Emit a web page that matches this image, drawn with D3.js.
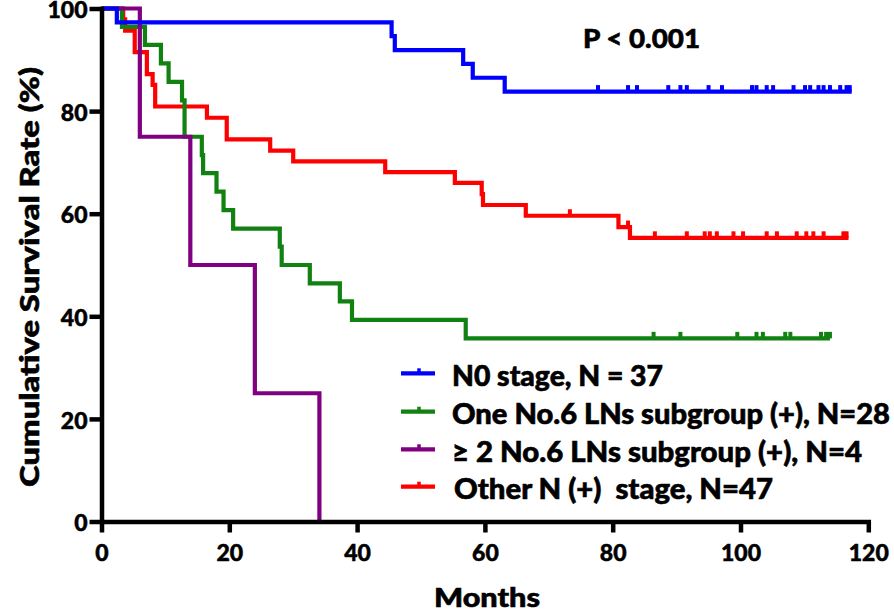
<!DOCTYPE html>
<html><head><meta charset="utf-8">
<script src="https://cdn.jsdelivr.net/npm/d3@7"></script>
<style>
body{margin:0;background:#fff}
svg{display:block}
text{font-family:Lato,"Open Sans",sans-serif;font-weight:900;fill:#000;stroke:#000;stroke-width:0.6px}
</style>
</head><body>
<svg id="chart" width="894" height="612"></svg>
<script>
// ---- data ----
const xTicks = [0, 20, 40, 60, 80, 100, 120];
const yTicks = [0, 20, 40, 60, 80, 100];
const legendLabels = ["N0 stage, N = 37", "One No.6 LNs subgroup (+), N=28", "\u2265 2 No.6 LNs subgroup (+), N=4", "Other N (+)  stage, N=47"];
const seriesColors = ["#0000ff", "#118211", "#800080", "#ff0000"];

// N0 stage
const n0Times = [0, 2.4, 45.4, 45.9, 56.6, 58.1, 63.1];
const n0Surv  = [100, 97.3, 94.6, 91.9, 89.2, 86.5, 83.8];
const n0End = 117.4;
const n0Censor = [77.7, 82.4, 83.8, 88.7, 90.6, 91.6, 95.0, 97.1, 101.8, 102.5, 104.1, 105.1, 108.3, 110.1, 110.9, 112.2, 113.0, 114.0, 115.6, 116.6, 117.1];

// One No.6 LNs subgroup (+)
const oneTimes = [0, 3.2, 6.8, 9.3, 10.5, 12.6, 13.0, 15.7, 15.9, 18.0, 19.1, 20.6, 27.9, 28.2, 32.6, 37.3, 39.2, 57.0];
const oneSurv  = [100, 96.4, 92.9, 89.3, 85.7, 82.1, 75.0, 71.4, 67.9, 64.3, 60.7, 57.1, 53.6, 50.0, 46.4, 42.9, 39.3, 35.7];
const oneEnd = 114.0;
const oneCensor = [86.4, 90.6, 99.5, 102.5, 103.5, 107.0, 107.8, 112.6, 113.4, 114.0];

// >= 2 No.6 LNs subgroup (+)
const twoTimes = [0, 6.0, 13.9, 24.0, 34.1];
const twoSurv  = [100, 75, 50, 25, 0];
const twoEnd = 34.1;
const twoCensor = [];

// Other N (+) stage
const othTimes = [0, 3.4, 3.7, 5.2, 7.1, 8.0, 8.4, 16.5, 19.6, 26.4, 30.0, 44.4, 55.3, 59.5, 59.7, 66.4, 80.9, 82.7];
const othSurv  = [100, 97.9, 95.7, 91.5, 87.2, 85.1, 80.9, 78.7, 74.5, 72.3, 70.2, 68.1, 66.0, 63.8, 61.7, 59.6, 57.4, 55.3];
const othEnd = 116.9;
const othCensor = [73.3, 82.4, 86.6, 91.6, 94.4, 95.2, 96.3, 98.9, 100.4, 104.1, 105.7, 108.8, 110.3, 111.4, 113.0, 116.1, 116.6];

// ---- layout ----
const svg = d3.select("#chart");
const x = d3.scaleLinear().domain([0, 120]).range([101.5, 868.3]);
const y = d3.scaleLinear().domain([0, 100]).range([521.5, 8.5]);

function build(times, surv, end) {
  const pts = times.map((t, i) => [t, surv[i]]);
  if (end > times[times.length - 1]) pts.push([end, surv[surv.length - 1]]);
  return pts;
}
function survAt(times, surv, t) {
  let v = surv[0];
  for (let i = 0; i < times.length; i++) if (times[i] <= t) v = surv[i];
  return v;
}

const series = [
  {times: n0Times, surv: n0Surv, end: n0End, censor: n0Censor, color: seriesColors[0]},
  {times: oneTimes, surv: oneSurv, end: oneEnd, censor: oneCensor, color: seriesColors[1]},
  {times: twoTimes, surv: twoSurv, end: twoEnd, censor: twoCensor, color: seriesColors[2]},
  {times: othTimes, surv: othSurv, end: othEnd, censor: othCensor, color: seriesColors[3]}
];
const drawOrder = [3, 1, 2, 0];

const line = d3.line().x(d => x(d[0])).y(d => y(d[1])).curve(d3.curveStepAfter);

const plot = svg.append("g");
drawOrder.forEach(i => {
  const s = series[i];
  plot.append("path")
    .attr("d", line(build(s.times, s.surv, s.end)))
    .attr("fill", "none")
    .attr("stroke", s.color)
    .attr("stroke-width", 4.2)
    .attr("stroke-linecap", "butt");
  plot.selectAll(null).data(s.censor).enter().append("line")
    .attr("x1", d => x(d)).attr("x2", d => x(d))
    .attr("y1", d => y(survAt(s.times, s.surv, d)))
    .attr("y2", d => y(survAt(s.times, s.surv, d)) - 6.5)
    .attr("stroke", s.color)
    .attr("stroke-width", 4);
});

// ---- axes ----
const xAxis = d3.axisBottom(x).tickValues(xTicks).tickSize(11).tickSizeOuter(0).tickPadding(12);
const yAxis = d3.axisLeft(y).tickValues(yTicks).tickSize(12).tickSizeOuter(0).tickPadding(2);

const gx = svg.append("g").attr("transform", "translate(0,521.5)").call(xAxis);
const gy = svg.append("g").attr("transform", "translate(101.5,0)").call(yAxis);
[gx, gy].forEach(g => {
  g.select(".domain").attr("stroke", "#000").attr("stroke-width", 4.5).attr("stroke-linecap", "square");
  g.selectAll(".tick line").attr("stroke", "#000").attr("stroke-width", 4.5);
  g.selectAll(".tick text").style("font-family", "Lato, 'Open Sans', sans-serif")
    .style("font-weight", "900").style("font-size", "23px").attr("fill", "#000")
    .style("stroke", "#000").style("stroke-width", "0.5px");
});
gy.selectAll(".tick text").attr("dy", "0.4em");

// ---- titles ----
svg.append("text")
  .attr("x", 487).attr("y", 607)
  .attr("text-anchor", "middle")
  .style("font-size", "27px")
  .attr("textLength", 106).attr("lengthAdjust", "spacingAndGlyphs")
  .text("Months");

svg.append("text")
  .attr("transform", "translate(39,277) rotate(-90)")
  .attr("text-anchor", "middle")
  .style("font-size", "27px")
  .attr("textLength", 420).attr("lengthAdjust", "spacingAndGlyphs")
  .text("Cumulative Survival Rate (%)");

svg.append("text")
  .attr("x", 583).attr("y", 48)
  .style("font-size", "27px")
  .attr("textLength", 117).attr("lengthAdjust", "spacingAndGlyphs")
  .text("P < 0.001");

// ---- legend ----
const legendOrder = [0, 1, 2, 3];
const legendY = [373.3, 411.7, 449.3, 486.7];
const legendW = [211, 438, 410, 319];
const lg = svg.append("g");
legendOrder.forEach((i, k) => {
  const ly = legendY[k];
  lg.append("line").attr("x1", 401).attr("x2", 435).attr("y1", ly).attr("y2", ly)
    .attr("stroke", seriesColors[i]).attr("stroke-width", 4.2);
  lg.append("line").attr("x1", 419).attr("x2", 419).attr("y1", ly).attr("y2", ly - 5)
    .attr("stroke", seriesColors[i]).attr("stroke-width", 3.5);
  lg.append("text").attr("x", k === 3 ? 454 : 452).attr("y", ly + 12.7)
    .style("font-size", "27.5px")
    .style("white-space", "pre")
    .attr("textLength", legendW[k]).attr("lengthAdjust", "spacingAndGlyphs")
    .text(legendLabels[i]);
});
</script>
</body></html>
